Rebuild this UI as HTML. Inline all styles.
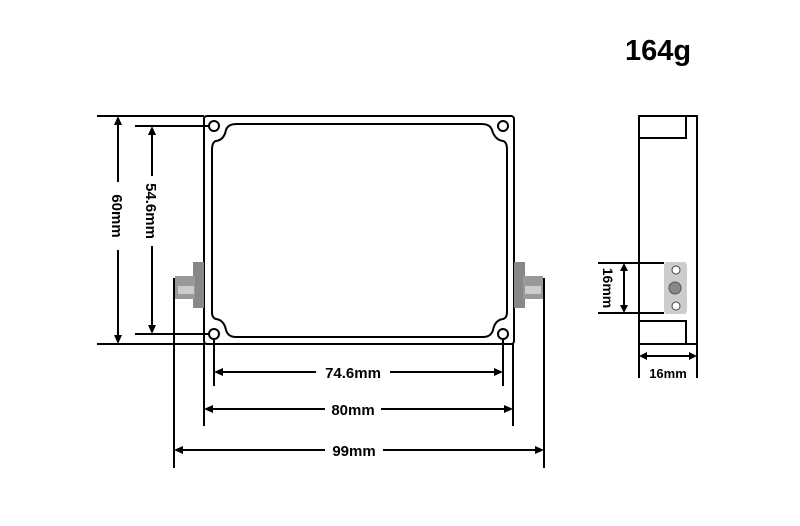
<!DOCTYPE html>
<html><head><style>
body{margin:0;background:#fff;width:800px;height:521px;overflow:hidden}
text{font-family:"Liberation Sans",Arial,sans-serif;font-weight:bold;fill:#000}
</style></head><body>
<svg width="800" height="521" viewBox="0 0 800 521" xmlns="http://www.w3.org/2000/svg">
<text x="658" y="60" font-size="29" text-anchor="middle">164g</text>
<g stroke="#000" fill="none" stroke-width="2">
<rect x="204" y="116" width="310" height="228" rx="3"/>
<path d="M236,124 H482 Q490,124 492,130 Q495,140 503,141 Q507,142 507,150 V312 Q507,318 503,319 Q495,320 493,330 Q491,337 483,337 H236 Q228,337 226,330 Q224,320 216,319 Q212,318 212,312 V150 Q212,142 216,141 Q224,140 226,130 Q228,124 236,124 Z"/>
<circle cx="214" cy="126" r="5"/><circle cx="503" cy="126" r="5"/>
<circle cx="214" cy="334" r="5"/><circle cx="503" cy="334" r="5"/>
<path d="M97,116 H204 M97,344 H204 M135,126 H209 M135,334 H209"/>
<path d="M214,339 V386 M503,339 V386 M204,344 V426 M513,344 V426 M174,278 V468 M544,278 V468"/>
<rect x="639" y="116" width="58" height="228"/>
<path d="M639,138 H686 V116 M639,321 H686 V344 M639,344 V378 M697,344 V378"/>
<path d="M598,263 H664 M598,313 H664"/>
</g>
<g stroke="#000" stroke-width="2" fill="none">
<path d="M118,118 V182 M118,250 V342" />
<path d="M152,128 V176 M152,246 V332"/>
<path d="M216,372 H316 M390,372 H501"/>
<path d="M206,409 H325 M381,409 H511"/>
<path d="M176,450 H325 M383,450 H542"/>
<path d="M641,356 H695"/>
<path d="M624,265 V311"/>
</g>
<g fill="#000">
<path d="M118,116 l-4,9 h8z M118,344 l-4,-9 h8z M152,126 l-4,9 h8z M152,334 l-4,-9 h8z"/>
<path d="M214,372 l9,-4 v8z M503,372 l-9,-4 v8z M204,409 l9,-4 v8z M513,409 l-9,-4 v8z M174,450 l9,-4 v8z M544,450 l-9,-4 v8z"/>
<path d="M639,356 l8,-4 v8z M697,356 l-8,-4 v8z M624,263 l-4,8 h8z M624,313 l-4,-8 h8z"/>
</g>
<text x="353" y="378" font-size="15" text-anchor="middle">74.6mm</text>
<text x="353" y="415" font-size="15" text-anchor="middle">80mm</text>
<text x="354" y="456" font-size="15" text-anchor="middle">99mm</text>
<text x="668" y="378" font-size="13" text-anchor="middle">16mm</text>
<text transform="translate(112,216) rotate(90)" font-size="15" text-anchor="middle">60mm</text>
<text transform="translate(146,211) rotate(90)" font-size="15" text-anchor="middle">54.6mm</text>
<text transform="translate(603,288) rotate(90)" font-size="14" text-anchor="middle">16mm</text>
<g>
<rect x="193" y="262" width="11" height="46" fill="#888"/>
<rect x="175" y="276" width="20" height="23" fill="#999"/>
<rect x="178" y="286" width="16" height="8" fill="#ccc"/>
<rect x="514" y="262" width="11" height="46" fill="#888"/>
<rect x="523" y="276" width="20" height="23" fill="#999"/>
<rect x="525" y="286" width="16" height="8" fill="#ccc"/>
<rect x="664" y="262" width="23" height="52" rx="3" fill="#ccc"/>
<circle cx="676" cy="270" r="4" fill="#fff" stroke="#444"/>
<circle cx="676" cy="306" r="4" fill="#fff" stroke="#444"/>
<circle cx="675" cy="288" r="6" fill="#888" stroke="#555"/>
</g>
</svg>
</body></html>
